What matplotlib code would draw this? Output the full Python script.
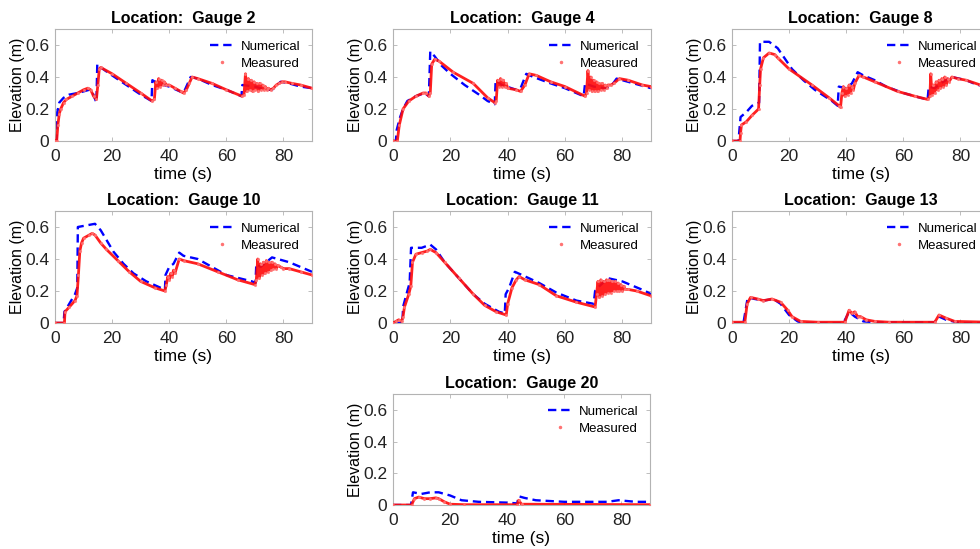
import matplotlib
matplotlib.use("Agg")
import matplotlib.pyplot as plt
from matplotlib.lines import Line2D

plt.rcParams['font.family'] = ['Liberation Sans', 'DejaVu Sans']
plt.rcParams['lines.scale_dashes'] = False

# ---------------- data ----------------
gauge_names = ["Gauge 2", "Gauge 4", "Gauge 8", "Gauge 10", "Gauge 11", "Gauge 13", "Gauge 20"]

g2_num_t = [0, 0.6, 0.8, 1.5, 3, 5, 8, 10, 12, 13, 14.5, 14.8, 16, 20, 25, 30, 33.8, 34.1, 36, 40,
            45, 47.5, 50, 55, 60, 65.3, 65.6, 70, 74, 76, 79, 82, 86, 90]
g2_num_y = [0, 0, 0.18, 0.24, 0.27, 0.29, 0.30, 0.31, 0.32, 0.31, 0.24, 0.48, 0.46, 0.41, 0.35, 0.29, 0.25, 0.38, 0.36, 0.34,
            0.30, 0.40, 0.39, 0.35, 0.32, 0.28, 0.35, 0.34, 0.32, 0.32, 0.37, 0.36, 0.34, 0.33]
g2_mea_t = [0, 0.6, 1.0, 1.5, 2, 3, 4, 6, 8, 10, 11.5, 12.5, 13.5, 14.5, 15.0, 15.5, 16, 20, 25, 30,
            34, 34.8, 35.3, 35.8, 36.3, 36.8, 37.3, 37.8, 38.3, 39, 40, 42, 44, 45, 46, 47, 48, 50, 55, 60,
            65.5, 66.2, 66.7, 67.2, 67.7, 68.2, 68.7, 69.2, 69.7, 70.2, 70.7, 71.2, 71.7, 72.2, 72.7, 73.2, 73.7, 74.2, 74.7, 75.5,
            76.5, 77.5, 78.5, 79.5, 80.5, 83, 86, 90]
g2_mea_y = [0, 0, 0.10, 0.17, 0.20, 0.24, 0.26, 0.28, 0.30, 0.32, 0.33, 0.32, 0.28, 0.26, 0.35, 0.45, 0.46, 0.42, 0.36, 0.30,
            0.25, 0.26, 0.37, 0.33, 0.39, 0.34, 0.38, 0.35, 0.37, 0.35, 0.35, 0.33, 0.31, 0.30, 0.32, 0.36, 0.40, 0.39, 0.36, 0.32,
            0.28, 0.29, 0.42, 0.31, 0.39, 0.32, 0.38, 0.31, 0.37, 0.32, 0.36, 0.31, 0.36, 0.32, 0.35, 0.32, 0.34, 0.32, 0.33, 0.32,
            0.33, 0.35, 0.36, 0.37, 0.37, 0.36, 0.35, 0.33]

g4_num_t = [0, 1.0, 1.3, 2.5, 3.5, 5, 8, 11, 12.5, 13.0, 14.5, 17, 20, 25, 30, 33, 35.5, 35.8, 38, 43,
            44.5, 46.5, 49, 55, 60, 66.5, 67, 70, 74, 76, 78, 82, 86, 90]
g4_num_y = [0, 0, 0.07, 0.15, 0.20, 0.25, 0.28, 0.30, 0.28, 0.56, 0.53, 0.47, 0.42, 0.35, 0.29, 0.25, 0.23, 0.38, 0.35, 0.32,
            0.33, 0.42, 0.40, 0.36, 0.33, 0.28, 0.36, 0.34, 0.33, 0.34, 0.39, 0.37, 0.35, 0.33]
g4_mea_t = [0, 1.5, 2.2, 3.5, 5.5, 8, 10.5, 11.5, 12.5, 13.0, 13.5, 14.5, 16, 21, 28, 33, 35.5, 36, 36.5, 37,
            37.5, 38, 38.5, 39, 39.5, 40, 43, 44.5, 46, 47.5, 50, 55, 60, 67, 67.5, 68, 68.5, 69, 69.5, 70,
            70.5, 71, 71.5, 72, 72.5, 73, 73.5, 74, 74.5, 75, 76, 77, 79, 82, 87, 90]
g4_mea_y = [0, 0, 0.10, 0.20, 0.25, 0.28, 0.30, 0.30, 0.28, 0.30, 0.48, 0.51, 0.50, 0.43, 0.36, 0.27, 0.24, 0.25, 0.38, 0.34,
            0.39, 0.34, 0.38, 0.34, 0.36, 0.33, 0.32, 0.31, 0.35, 0.42, 0.41, 0.37, 0.34, 0.28, 0.30, 0.44, 0.32, 0.40, 0.31, 0.38,
            0.31, 0.37, 0.31, 0.36, 0.32, 0.36, 0.32, 0.35, 0.33, 0.35, 0.35, 0.36, 0.39, 0.38, 0.35, 0.34]

g8_num_t = [0, 2.3, 2.5, 3, 5, 7, 9.5, 9.8, 13, 16, 21, 25, 29, 35, 37, 37.4, 40, 42, 44, 46,
            50, 54, 60, 66, 68.5, 68.9, 71, 73, 77, 82, 86, 90]
g8_num_y = [0, 0, 0.05, 0.15, 0.18, 0.22, 0.24, 0.62, 0.62, 0.58, 0.45, 0.38, 0.32, 0.25, 0.22, 0.34, 0.33, 0.36, 0.43, 0.41,
            0.38, 0.34, 0.30, 0.27, 0.26, 0.34, 0.33, 0.36, 0.40, 0.38, 0.35, 0.34]
g8_mea_t = [0, 2.8, 3.0, 3.3, 5, 7, 9.3, 9.7, 10, 11, 13, 15, 16, 20, 28, 34, 37.5, 38, 38.5, 39,
            39.5, 40, 40.5, 41, 41.5, 42, 42.5, 43, 44.5, 46, 50, 58, 64, 68.5, 69.3, 69.6, 70, 70.5, 71, 71.5,
            72, 72.5, 73, 73.5, 74, 74.5, 75, 75.5, 76, 77, 79, 82, 87, 90]
g8_mea_y = [0, 0, 0.05, 0.10, 0.12, 0.16, 0.20, 0.35, 0.45, 0.52, 0.55, 0.54, 0.52, 0.45, 0.35, 0.27, 0.22, 0.21, 0.30, 0.34,
            0.28, 0.33, 0.29, 0.35, 0.30, 0.34, 0.32, 0.36, 0.41, 0.40, 0.37, 0.31, 0.28, 0.26, 0.28, 0.42, 0.29, 0.35, 0.30, 0.37,
            0.32, 0.38, 0.33, 0.39, 0.34, 0.40, 0.35, 0.39, 0.37, 0.40, 0.39, 0.38, 0.35, 0.34]

g10_num_t = [0, 3.0, 3.3, 5, 7, 7.8, 8.0, 11, 14, 16, 20.5, 24, 27.5, 32, 37, 38.5, 38.7, 40, 41.5, 43.5,
             45, 50, 60, 69, 70.2, 70.5, 72, 74, 76, 82, 86, 90]
g10_num_y = [0, 0, 0.07, 0.12, 0.18, 0.22, 0.60, 0.61, 0.62, 0.58, 0.445, 0.37, 0.31, 0.26, 0.22, 0.21, 0.30, 0.35, 0.37, 0.44,
             0.42, 0.40, 0.30, 0.26, 0.25, 0.37, 0.35, 0.38, 0.41, 0.38, 0.35, 0.32]
g10_mea_t = [0, 3.3, 3.5, 5, 7, 7.7, 8.2, 8.7, 9.3, 10, 12, 13, 14, 16, 18, 22, 26, 30, 35, 38.5,
             39.0, 39.5, 40, 40.5, 41, 41.5, 42, 43.5, 45, 50, 57, 64, 70, 70.5, 71, 71.5, 72, 72.5, 73, 73.5,
             74, 74.5, 75, 75.5, 76, 76.5, 77, 77.5, 78, 79, 80, 82, 86, 90]
g10_mea_y = [0, 0, 0.07, 0.10, 0.14, 0.17, 0.30, 0.45, 0.50, 0.53, 0.55, 0.56, 0.55, 0.50, 0.46, 0.39, 0.32, 0.26, 0.22, 0.20,
             0.24, 0.29, 0.27, 0.31, 0.29, 0.33, 0.31, 0.40, 0.39, 0.37, 0.32, 0.27, 0.24, 0.27, 0.40, 0.28, 0.37, 0.30, 0.38, 0.31,
             0.39, 0.32, 0.38, 0.33, 0.38, 0.34, 0.37, 0.34, 0.36, 0.35, 0.34, 0.34, 0.32, 0.30]

g11_num_t = [0, 3.3, 3.5, 5, 5.8, 6.3, 10, 13, 15, 18, 23, 28, 32, 37, 39, 39.3, 40.5, 42.5, 45, 51,
             57, 64, 70, 70.5, 72, 75, 80, 84, 88, 90]
g11_num_y = [0, 0, 0.10, 0.20, 0.25, 0.47, 0.47, 0.49, 0.46, 0.38, 0.28, 0.18, 0.12, 0.07, 0.06, 0.18, 0.22, 0.32, 0.30, 0.25,
             0.19, 0.14, 0.12, 0.20, 0.23, 0.28, 0.26, 0.23, 0.20, 0.18]
g11_mea_t = [0, 1, 2, 3, 3.5, 4, 5.5, 6.2, 6.8, 8, 10, 12, 13, 15, 18, 23, 28, 32, 36, 39.5,
             40, 41.5, 43, 44, 46, 51, 57, 64, 70.5, 71, 71.5, 72, 72.5, 73, 73.5, 74, 74.5, 75, 75.5, 76,
             76.5, 77, 77.5, 78, 78.5, 79, 79.5, 80, 80.5, 81, 82, 85, 90]
g11_mea_y = [0, 0.01, 0.02, 0.01, 0.04, 0.10, 0.18, 0.23, 0.38, 0.43, 0.44, 0.45, 0.46, 0.44, 0.38, 0.28, 0.18, 0.11, 0.07, 0.05,
             0.12, 0.22, 0.27, 0.29, 0.27, 0.24, 0.17, 0.13, 0.10, 0.18, 0.26, 0.16, 0.27, 0.17, 0.26, 0.18, 0.27, 0.19, 0.27, 0.19,
             0.26, 0.20, 0.26, 0.20, 0.25, 0.20, 0.24, 0.20, 0.23, 0.21, 0.21, 0.20, 0.17]

g13_num_t = [0, 4, 5.5, 8, 11, 14.5, 17, 20, 23, 25, 39, 41, 43, 46, 50, 71, 72.5, 75, 80, 90]
g13_num_y = [0, 0, 0.16, 0.15, 0.14, 0.15, 0.12, 0.05, 0.01, 0, 0, 0.07, 0.04, 0.01, 0.005, 0.005, 0.04, 0.02, 0, 0]
g13_mea_t = [0, 4.5, 5.3, 6.5, 9, 11, 14, 17, 19.5, 21, 24, 30, 39.5, 41, 42, 43, 44, 45, 47, 50,
             55, 71, 72.5, 75, 78, 90]
g13_mea_y = [0.005, 0.005, 0.12, 0.16, 0.15, 0.14, 0.15, 0.13, 0.08, 0.04, 0.01, 0.005, 0.005, 0.08, 0.06, 0.07, 0.04, 0.04, 0.02, 0.01,
             0.005, 0.005, 0.05, 0.03, 0.01, 0.005]

g20_num_t = [0, 6.3, 7, 10, 13, 16, 20, 24, 30, 40, 43.5, 44, 46, 50, 60, 75, 79, 85, 90]
g20_num_y = [0, 0, 0.08, 0.07, 0.08, 0.08, 0.06, 0.03, 0.02, 0.015, 0.01, 0.055, 0.045, 0.03, 0.02, 0.02, 0.03, 0.02, 0.02]
g20_mea_t = [0, 6.5, 7.5, 9, 11, 13, 15, 16, 18, 20, 25, 43.5, 44, 45, 90]
g20_mea_y = [0, 0, 0.04, 0.05, 0.04, 0.04, 0.045, 0.04, 0.02, 0.005, 0.002, 0.002, 0.03, 0.005, 0.002]

x_ticks = [0, 20, 40, 60, 80]
y_ticks = [0, 0.2, 0.4, 0.6]
y_ticklabels = ["0", "0.2", "0.4", "0.6"]

series = [
    (g2_num_t, g2_num_y, g2_mea_t, g2_mea_y),
    (g4_num_t, g4_num_y, g4_mea_t, g4_mea_y),
    (g8_num_t, g8_num_y, g8_mea_t, g8_mea_y),
    (g10_num_t, g10_num_y, g10_mea_t, g10_mea_y),
    (g11_num_t, g11_num_y, g11_mea_t, g11_mea_y),
    (g13_num_t, g13_num_y, g13_mea_t, g13_mea_y),
    (g20_num_t, g20_num_y, g20_mea_t, g20_mea_y),
]

# ---------------- layout ----------------
W, H = 980, 549
fig = plt.figure(figsize=(W / 100, H / 100), dpi=100)

def px_axes(left, top, width, height):
    return fig.add_axes([left / W, 1 - (top + height) / H, width / W, height / H])

positions = [
    (55, 29, 257, 112), (393, 29, 258, 112), (732, 29, 257, 112),
    (55, 211, 257, 112), (393, 211, 258, 112), (732, 211, 257, 112),
    (393, 394, 257, 111),
]

blue = (0, 0, 1)
red = (1, 0.05, 0.05)
pink = (1, 0.45, 0.45)
spine_col = '#b3b3b3'

for (pos, name, (nt, ny, mt, my)) in zip(positions, gauge_names, series):
    ax = px_axes(*pos)
    ax.plot(nt, ny, color=blue, lw=1.7, dashes=(6, 3.5), zorder=2)
    ax.plot(mt, my, color=red, lw=2.0, alpha=0.92, solid_joinstyle='round', zorder=3)
    ax.plot(mt, my, linestyle='none', marker='.', ms=2.5, color=pink, alpha=0.8, zorder=3)
    ax.set_xlim(0, 90)
    ax.set_ylim(0, 0.7)
    ax.set_xticks(x_ticks)
    ax.set_yticks(y_ticks)
    ax.set_yticklabels(y_ticklabels)
    ax.tick_params(direction='in', length=3, width=0.6, color=spine_col,
                   labelsize=12.5, labelcolor='#222222', top=True, right=True, pad=4)
    ax.tick_params(axis='x', pad=6)
    for s in ax.spines.values():
        s.set_color(spine_col)
        s.set_linewidth(0.8)
    ax.set_title("Location:  " + name, fontsize=11.5, fontweight='bold', pad=4)
    ax.set_xlabel("time (s)", fontsize=12.5, labelpad=2)
    ax.set_ylabel("Elevation (m)", fontsize=11.5, labelpad=0)
    handles = [Line2D([], [], color=blue, lw=1.7, dashes=(6, 3.5)),
               Line2D([], [], linestyle='none', marker='.', ms=3, color=pink)]
    ax.legend(handles, ["Numerical", "Measured"], loc='upper right', frameon=False,
              fontsize=9.5, handlelength=1.8, handletextpad=0.5, labelspacing=0.35,
              borderaxespad=0.5, markerfirst=True)

fig.savefig("out.png", dpi=100)
